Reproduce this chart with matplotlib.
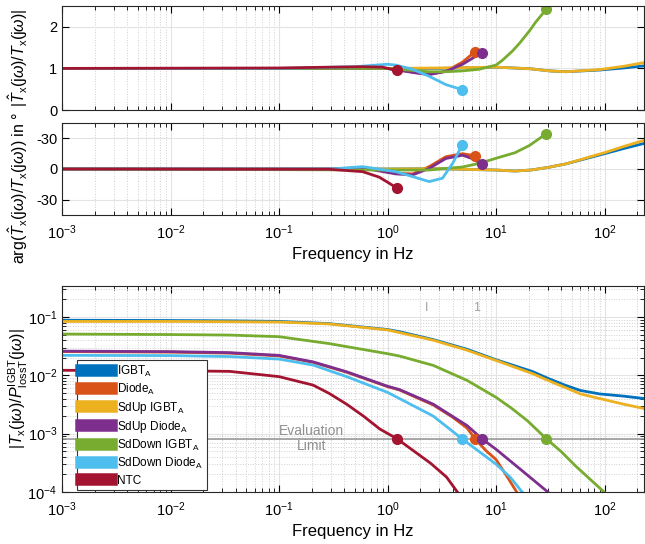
import numpy as np
import matplotlib
matplotlib.use('Agg')
import matplotlib.pyplot as plt
from matplotlib.ticker import NullFormatter, LogLocator

plt.rcParams['font.family'] = ['Liberation Sans', 'DejaVu Sans']
plt.rcParams['mathtext.fontset'] = 'custom'
plt.rcParams['mathtext.rm'] = 'Liberation Sans'
plt.rcParams['mathtext.it'] = 'Liberation Sans:italic'
plt.rcParams['mathtext.bf'] = 'Liberation Sans:bold'

# series names and colours (MATLAB default order)
names = [r'IGBT$_\mathrm{A}$', r'Diode$_\mathrm{A}$', r'SdUp IGBT$_\mathrm{A}$',
         r'SdUp Diode$_\mathrm{A}$', r'SdDown IGBT$_\mathrm{A}$',
         r'SdDown Diode$_\mathrm{A}$', 'NTC']
colors = ['#0072BD', '#D95319', '#EDB120', '#7E2F8E', '#77AC30', '#4DBEEE', '#A2142F']

# frequency where each curve crosses the evaluation limit (None = never)
f_limit = [None, 6.4, None, 7.4, 29.0, 4.85, 1.22]
eval_limit = 8.2e-4

# ---- bottom plot: |T_x / P_loss| ----
mag_f = [
    [1e-3, 0.01, 0.035, 0.1, 0.29, 1.0, 1.29, 2.64, 5.4, 10, 21.7, 30, 44, 60, 90, 150, 231],
    [1e-3, 0.01, 0.035, 0.1, 0.206, 0.42, 1.0, 1.29, 2.64, 4.0, 5.4, 6.4, 8.0, 10, 12.5, 15.5],
    [1e-3, 0.01, 0.035, 0.1, 0.29, 1.0, 1.29, 2.64, 5.4, 10, 21.7, 30, 44, 60, 90, 150, 231],
    [1e-3, 0.01, 0.035, 0.1, 0.206, 0.42, 1.0, 1.29, 2.64, 5.4, 7.4, 10, 17, 30],
    [1e-3, 0.01, 0.035, 0.1, 0.29, 1.0, 1.29, 2.64, 5.4, 10, 14, 19.5, 29.0, 40, 54, 70, 99],
    [1e-3, 0.01, 0.035, 0.1, 0.206, 0.42, 1.0, 1.29, 2.64, 4.85, 10, 13.5, 17.4],
    [1e-3, 0.01, 0.035, 0.1, 0.206, 0.29, 0.42, 0.6, 0.85, 1.22, 2.5, 3.5, 4.4],
]
mag_v = [
    [0.088, 0.087, 0.086, 0.084, 0.077, 0.061, 0.056, 0.041, 0.028, 0.0185, 0.0116, 0.0089, 0.0067, 0.0055, 0.0048, 0.0044, 0.0040],
    [0.0255, 0.025, 0.024, 0.0215, 0.0167, 0.0113, 0.0064, 0.0056, 0.0031, 0.0019, 0.00125, 0.00082, 0.00052, 3.6e-4, 1.9e-4, 1e-4],
    [0.084, 0.084, 0.083, 0.082, 0.076, 0.060, 0.054, 0.040, 0.027, 0.018, 0.0107, 0.0082, 0.0061, 0.0048, 0.0040, 0.0032, 0.0027],
    [0.026, 0.0255, 0.0245, 0.022, 0.017, 0.0115, 0.0065, 0.0057, 0.0032, 0.00138, 0.00082, 5.4e-4, 2.4e-4, 1e-4],
    [0.051, 0.050, 0.049, 0.046, 0.035, 0.0235, 0.0214, 0.0148, 0.0082, 0.0042, 0.0027, 0.00166, 0.00082, 4.9e-4, 2.8e-4, 1.8e-4, 1e-4],
    [0.022, 0.0218, 0.021, 0.019, 0.015, 0.0095, 0.0051, 0.0040, 0.0020, 0.00082, 3e-4, 1.8e-4, 1e-4],
    [0.0122, 0.012, 0.0117, 0.0095, 0.0068, 0.0049, 0.0032, 0.0020, 0.0012, 0.00082, 3.1e-4, 1.8e-4, 1e-4],
]

# ---- top plot: |T_hat / T| ----
rat_f = [
    [1e-3, 0.1, 1.0, 3.0, 10, 21, 31, 44, 89, 150, 231],
    [1e-3, 0.1, 1.0, 1.83, 2.42, 3.45, 4.9, 6.4],
    [1e-3, 0.1, 1.0, 3.0, 10, 21, 31, 44, 89, 150, 231],
    [1e-3, 0.1, 1.0, 1.83, 2.42, 3.45, 4.92, 7.4],
    [1e-3, 0.1, 1.0, 2.42, 3.45, 4.92, 7.0, 10, 11.5, 14.2, 16.4, 20.3, 23, 26, 29.0],
    [1e-3, 0.1, 0.5, 1.0, 1.19, 1.7, 2.42, 3.45, 4.85],
    [1e-3, 0.1, 0.3, 0.59, 0.9, 1.22],
]
rat_v = [
    [1.0, 1.0, 1.0, 1.0, 1.03, 0.99, 0.94, 0.92, 0.96, 1.01, 1.06],
    [1.0, 1.0, 1.0, 0.9, 0.86, 0.93, 1.15, 1.40],
    [1.0, 1.0, 1.0, 1.01, 1.03, 0.99, 0.94, 0.92, 0.97, 1.05, 1.14],
    [1.0, 1.0, 1.0, 0.89, 0.85, 0.93, 1.10, 1.38],
    [1.0, 1.0, 1.0, 0.92, 0.92, 0.94, 0.98, 1.08, 1.2, 1.42, 1.6, 1.9, 2.1, 2.27, 2.42],
    [1.0, 1.0, 1.04, 1.10, 1.08, 0.98, 0.81, 0.61, 0.49],
    [1.0, 1.01, 1.03, 1.04, 1.03, 0.95],
]

# ---- middle plot: arg(T_hat / T) in deg (axis reversed) ----
ph_f = [
    [1e-3, 1.0, 3.0, 5.0, 10, 15, 21, 30, 44, 100, 150, 231],
    [1e-3, 0.3, 0.59, 1.19, 1.7, 2.42, 3.45, 4.92, 6.4],
    [1e-3, 1.0, 3.0, 5.0, 10, 15, 21, 30, 44, 100, 150, 231],
    [1e-3, 0.3, 0.59, 1.19, 1.7, 2.42, 3.45, 4.92, 6.1, 7.4],
    [1e-3, 1.19, 2.42, 4.92, 7.0, 10, 15, 20.3, 29.0],
    [1e-3, 0.3, 0.59, 1.19, 1.7, 2.42, 3.21, 3.98, 4.85],
    [1e-3, 0.29, 0.59, 0.84, 1.04, 1.22],
]
ph_v = [
    [0, 0, -0.3, 0.3, 1.0, 2.0, 1.0, -1.5, -5, -15, -20, -25],
    [0, 0, -1.3, 4.2, 4.8, -2.3, -12, -15, -12.9],
    [0, 0, -0.3, 0.3, 1.0, 2.0, 1.0, -1.5, -5, -16, -22, -28],
    [0, 0, -1.0, 4.8, 5.8, -0.6, -10.3, -13.5, -10, -4.5],
    [0, 1.0, 1.0, -2.0, -5.5, -10.5, -16, -23, -34.5],
    [0, 0, -2.3, 2.6, 7.4, 12.3, 9.0, -5.5, -23],
    [0, 0.3, 2.6, 8.0, 14.0, 18.7],
]

fig = plt.figure(figsize=(6.45, 5.44), dpi=100)
ax1 = fig.add_axes([62/645, 1-110/544, 582/645, 104/544])
ax2 = fig.add_axes([62/645, 1-215/544, 582/645, 92/544])
ax3 = fig.add_axes([62/645, 1-492/544, 582/645, 206/544])

lw = 2.0
for i in range(7):
    ax1.plot(rat_f[i], rat_v[i], color=colors[i], lw=lw)
    ax2.plot(ph_f[i], ph_v[i], color=colors[i], lw=lw)
    ax3.plot(mag_f[i], mag_v[i], color=colors[i], lw=lw, label=names[i])
for i in range(7):
    if f_limit[i] is not None:
        ax1.plot(rat_f[i][-1], rat_v[i][-1], 'o', color=colors[i], ms=7)
        ax2.plot(ph_f[i][-1], ph_v[i][-1], 'o', color=colors[i], ms=7)
        ax3.plot(f_limit[i], eval_limit, 'o', color=colors[i], ms=7, zorder=5)

ax3.axhline(eval_limit, color='#999999', lw=1.2, zorder=1)
ax3.text(0.2, eval_limit, 'Evaluation\nLimit', ha='center', va='center',
         color='#909090', fontsize=10, linespacing=1.1)
ax3.text(2.28, 0.14, 'I', ha='center', va='center', color='#a0a0a0', fontsize=9)
ax3.text(6.6, 0.14, '1', ha='center', va='center', color='#a0a0a0', fontsize=9)

for ax in (ax1, ax2, ax3):
    ax.set_xscale('log')
    ax.set_xlim(1e-3, 231)
    ax.set_xticks([1e-3, 1e-2, 1e-1, 1e0, 1e1, 1e2])
    ax.tick_params(which='both', direction='in', top=True, right=True, labelsize=10.5)
    ax.tick_params(which='major', length=5)
    ax.tick_params(which='minor', length=3)
    ax.tick_params(axis='x', pad=6)
    ax.grid(True, which='major', color='#e3e3e3', lw=0.8)
    ax.grid(True, which='minor', axis='x', color='#cfcfcf', ls=':', lw=0.7)
    ax.set_axisbelow(True)
    for s in ax.spines.values():
        s.set_color('#262626')

ax1.set_ylim(0, 2.5)
ax1.set_yticks([0, 1, 2])
ax1.tick_params(labelbottom=False)

ax2.set_ylim(45, -45)
ax2.set_yticks([-30, 0, 30])
ax2.set_yticklabels(['-30', '0', '-30'])
ax2.set_xlabel('Frequency in Hz', fontsize=12)

ax3.set_yscale('log')
ax3.set_ylim(1e-4, 0.34)
ax3.set_yticks([1e-4, 1e-3, 1e-2, 1e-1])
ax3.yaxis.set_minor_locator(LogLocator(subs=np.arange(2, 10)))
ax3.yaxis.set_minor_formatter(NullFormatter())
ax3.grid(True, which='minor', axis='y', color='#cfcfcf', ls=':', lw=0.7)
ax3.set_xlabel('Frequency in Hz', fontsize=12)

fig.text(0.028, 1-58/544, r'$|\hat{T}_\mathrm{x}(\mathrm{j}\omega)/T_\mathrm{x}(\mathrm{j}\omega)|$',
         rotation=90, ha='center', va='center', fontsize=11.5)
fig.text(0.028, 1-188/544, r'arg($\hat{T}_\mathrm{x}(\mathrm{j}\omega)/T_\mathrm{x}(\mathrm{j}\omega)$) in °',
         rotation=90, ha='center', va='center', fontsize=11.5)
fig.text(0.028, 1-389/544, r'$|T_\mathrm{x}(\mathrm{j}\omega)/P_\mathrm{lossT}^\mathrm{IGBT}(\mathrm{j}\omega)|$',
         rotation=90, ha='center', va='center', fontsize=11.5)

leg = ax3.legend(loc='upper left', bbox_to_anchor=(0.026, 0.64), fontsize=8.5,
                 fancybox=False, framealpha=1, edgecolor='#333333',
                 handlelength=2.6, handleheight=1.2, labelspacing=0.25,
                 borderpad=0.3, handletextpad=0.5, borderaxespad=0)
for h in leg.get_lines():
    h.set_linewidth(9)
leg.get_frame().set_linewidth(0.8)

fig.savefig('out.png', dpi=100)
